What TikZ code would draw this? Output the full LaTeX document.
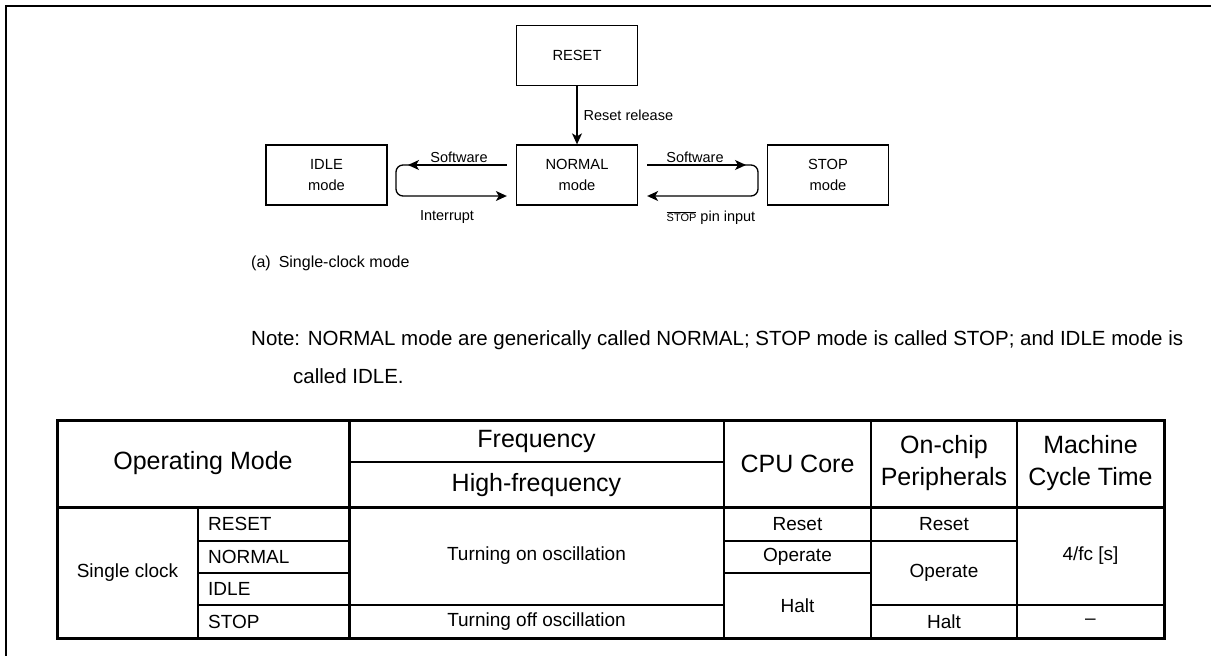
\documentclass[tikz,border=0pt]{standalone}
\usepackage{fontspec}
\setmainfont{Liberation Sans}
\usetikzlibrary{arrows.meta}
\begin{document}
\begin{tikzpicture}[x=1pt,y=-1pt,
  box/.style={draw,line width=1.3pt,minimum width=121pt,minimum height=60pt,inner sep=0pt,align=center,font=\fontsize{14.7}{21}\selectfont},
  arr/.style={line width=1.3pt,-{Stealth[length=11pt,width=10pt,inset=3pt]}},
  lbl/.style={font=\fontsize{14.5}{16}\selectfont,inner sep=0pt},
  frame/.style={line width=2pt},
  thickline/.style={line width=3pt},
  midline/.style={line width=1.6pt},
  thinline/.style={line width=1.2pt},
  hd/.style={font=\fontsize{25}{32}\selectfont,align=center,inner sep=0pt},
  bd/.style={font=\fontsize{19}{22}\selectfont,inner sep=0pt},
  captxt/.style={font=\fontsize{16}{19}\selectfont,anchor=west,inner sep=0pt},
  txt/.style={font=\fontsize{20.5}{24}\selectfont,anchor=west,inner sep=0pt}]

\useasboundingbox (0,0) rectangle (1211,656);
\draw[frame] (1211,6) -- (6,6) -- (6,656);

% state diagram
\node[box] (reset) at (577,55.5) {RESET};
\node[box] (normal) at (577,175) {NORMAL\\mode};
\node[box] (idle) at (326.5,175) {IDLE\\mode};
\node[box] (stop) at (828,175) {STOP\\mode};

\draw[arr] (reset) -- node[lbl,right=6pt] (rr) {Reset release} (normal);

\coordinate (itop) at (408,165);
\coordinate (icornerA) at (396,165);
\coordinate (icornerB) at (396,196);
\draw[arr] ([xshift=-9pt,yshift=10pt]normal.west) -- (itop);
\draw[arr,rounded corners=7pt] ([xshift=4pt]itop) -- (icornerA) -- (icornerB) -- ([xshift=-9pt,yshift=-21pt]normal.west);
\node[lbl] (sw1) at (459,157) {Software};
\node[lbl] (intr) at (447,217) {Interrupt};

\coordinate (stop1) at (746,165);
\coordinate (scornerA) at (758,165);
\coordinate (scornerB) at (758,196);
\draw[arr] ([xshift=9pt,yshift=10pt]normal.east) -- (stop1);
\draw[arr,rounded corners=7pt] ([xshift=-4pt]stop1) -- (scornerA) -- (scornerB) -- ([xshift=9pt,yshift=-21pt]normal.east);
\node[lbl] (sw2) at (695,157) {Software};
\node[lbl] (pin) at (711,218) {$\overline{\mbox{\fontsize{11}{12}\selectfont STOP}}$ pin input};

% caption and note
\node[captxt] (cap) at (251,263) {(a)\enspace Single-clock mode};
\node[txt] (note1) at (251,340) {Note: NORMAL mode are generically called NORMAL; STOP mode is called STOP; and IDLE mode is};
\node[txt] (note2) at (293,376) {called IDLE.};

% table
\draw[midline] (724,420) -- (724,638);
\draw[midline] (871,420) -- (871,638);
\draw[midline] (1017,420) -- (1017,638);
\draw[thinline] (198,507) -- (198,638);
\draw[thinline] (349,462) -- (724,462);
\draw[thinline] (198,541) -- (349,541);
\draw[thinline] (724,541) -- (1017,541);
\draw[thinline] (198,573) -- (349,573);
\draw[thinline] (724,573) -- (871,573);
\draw[thinline] (198,605) -- (724,605);
\draw[thinline] (871,605) -- (1164,605);
\draw[thickline] (349,420) -- (349,638);
\draw[thickline] (57,507) -- (1164,507);
\draw[thickline] (57,420) rectangle (1164,638);

\node[hd] (opm) at (203,463.5) {Operating Mode};
\node[hd] (freq) at (536.5,441) {Frequency};
\node[hd] (hf) at (536.5,485) {High-frequency};
\node[hd] (cpu) at (797.5,463.5) {CPU Core};
\node[hd] (per) at (944,463.5) {On-chip\\Peripherals};
\node[hd] (mct) at (1090.5,463.5) {Machine\\Cycle Time};

\node[bd] (sc) at (127.5,572.5) {Single clock};
\node[bd,anchor=west] (mr) at (208,524) {RESET};
\node[bd,anchor=west] (mn) at (208,557) {NORMAL};
\node[bd,anchor=west] (mi) at (208,589) {IDLE};
\node[bd,anchor=west] (ms) at (208,621.5) {STOP};
\node[bd] (fon) at (536.5,556) {Turning on oscillation};
\node[bd] (foff) at (536.5,621.5) {Turning off oscillation};
\node[bd] (cr) at (797.5,524) {Reset};
\node[bd] (co) at (797.5,557) {Operate};
\node[bd] (ch) at (797.5,605.5) {Halt};
\node[bd] (pr) at (944,524) {Reset};
\node[bd] (po) at (944,573) {Operate};
\node[bd] (ph) at (944,621.5) {Halt};
\node[bd] (m1) at (1090.5,556) {4/fc [s]};
\node[bd] (m2) at (1090.5,621.5) {–};
\end{tikzpicture}
\end{document}
